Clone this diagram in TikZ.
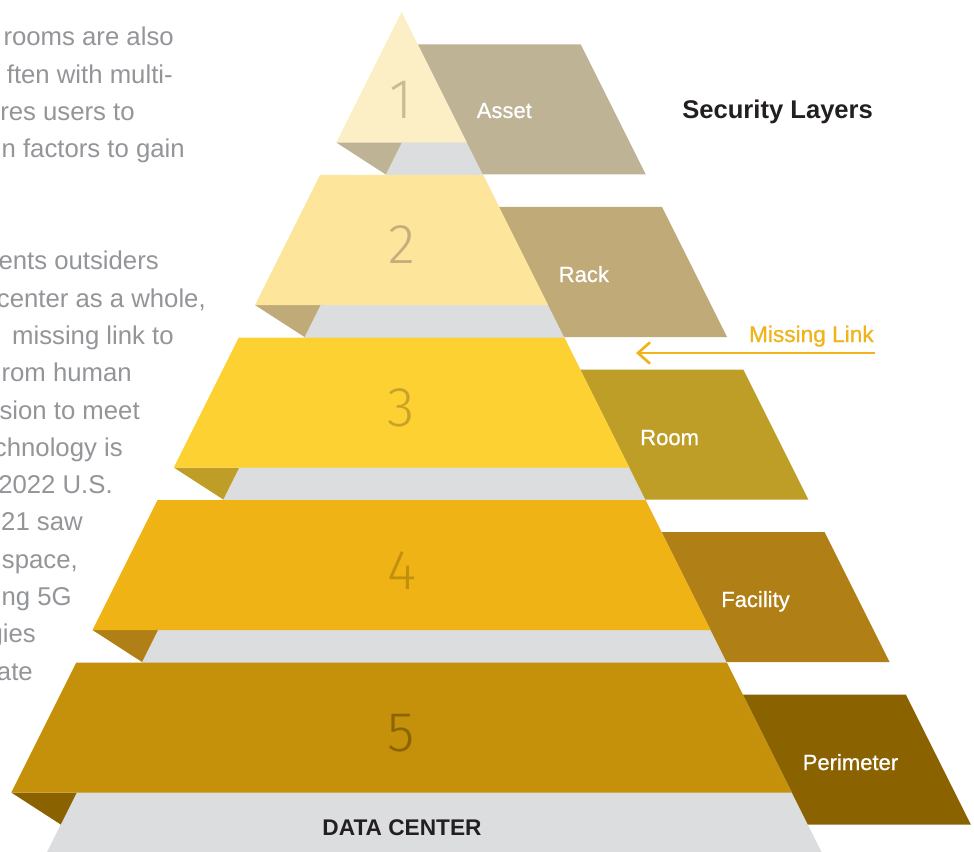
\documentclass[tikz,border=0pt]{standalone}
\usepackage{fontspec}
\setmainfont{Liberation Sans}
\newfontfamily\medfont{Liberation Sans}[FakeBold=0.8]
\IfFontExistsTF{Fira Sans Light}
  {\newfontfamily\digitfont{Fira Sans Light}}
  {\newfontfamily\digitfont{Liberation Sans}}
\usetikzlibrary{arrows.meta}

\definecolor{bandgray}{HTML}{DCDDDF}
\definecolor{bodytext}{HTML}{939598}
\definecolor{headtext}{HTML}{231F20}
\definecolor{linkcol}{HTML}{F0B31A}
% front / back colours of the five layers
\definecolor{fA}{HTML}{FDEFC5}\definecolor{bA}{HTML}{BFB396}\definecolor{dA}{HTML}{C9BB92}
\definecolor{fB}{HTML}{FEE59C}\definecolor{bB}{HTML}{BFAA78}\definecolor{dB}{HTML}{C4AE7C}
\definecolor{fC}{HTML}{FED133}\definecolor{bC}{HTML}{BF9E27}\definecolor{dC}{HTML}{C9A22A}
\definecolor{fD}{HTML}{EFB315}\definecolor{bD}{HTML}{B08016}\definecolor{dD}{HTML}{C2900F}
\definecolor{fE}{HTML}{C5900A}\definecolor{bE}{HTML}{8A6300}\definecolor{dE}{HTML}{8C6503}

\tikzset{
  face/.style={fill=#1, draw=none},
  layernum/.style={text=#1, font=\digitfont\fontsize{42}{42}\selectfont, inner sep=0pt, anchor=center},
  layerlabel/.style={text=white, font=\medfont\fontsize{16.5}{16.5}\selectfont, inner sep=0pt, anchor=base west},
  para/.style={text=bodytext, font=\fontsize{19.3}{19.3}\selectfont, inner sep=0pt, anchor=base east},
}

\begin{document}
\begin{tikzpicture}[x=0.75pt, y=-0.75pt]
\useasboundingbox (0,0) rectangle (974,852);
\fill[white] (0,0) rectangle (974,852);

% paragraph running off the left edge
\node[para] (p1)  at (174,46)    {rooms are also};
\node[para] (p2)  at (173,83.3)  {ften with multi-};
\node[para] (p3)  at (135,120.6) {res users to};
\node[para] (p4)  at (185,157.9) {n factors to gain};
\node[para] (p5)  at (159,269.8) {ents outsiders};
\node[para] (p6)  at (206,307.1) {center as a whole,};
\node[para] (p7)  at (174,344.4) {missing link to};
\node[para] (p8)  at (132,381.7) {rom human};
\node[para] (p9)  at (140,419)   {sion to meet};
\node[para] (p10) at (123,456.3) {chnology is};
\node[para] (p11) at (113,493.6) {2022 U.S.};
\node[para] (p12) at (83,530.9)  {21 saw};
\node[para] (p13) at (78,568.2)  {space,};
\node[para] (p14) at (72,605.5)  {ng 5G};
\node[para] (p15) at (36,642.8)  {gies};
\node[para] (p16) at (33,680.1)  {ate};

% grey body of the pyramid
\fill[bandgray] (434.25,77.5) -- (821.5,852) -- (47,852) -- cycle;

% back panels (right side)
\fill[face=bA] (417.75,44.5) -- (580.75,44.5) -- (645.75,174.5) -- (482.75,174.5) -- cycle;
\fill[face=bB] (499,207) -- (662,207) -- (727,337) -- (564,337) -- cycle;
\fill[face=bC] (580.25,369.5) -- (743.25,369.5) -- (808.25,499.5) -- (645.25,499.5) -- cycle;
\fill[face=bD] (661.5,532) -- (824.5,532) -- (889.5,662) -- (726.5,662) -- cycle;
\fill[face=bE] (742.75,694.5) -- (905.75,694.5) -- (970.75,824.5) -- (807.75,824.5) -- cycle;

% folded corners (left side)
\fill[face=bA] (336.25,142.5) -- (401.75,142.5) -- (385.75,174.5) -- cycle;
\fill[face=bB] (255,305) -- (320.5,305) -- (304.5,337) -- cycle;
\fill[face=bC] (173.75,467.5) -- (239.25,467.5) -- (223.25,499.5) -- cycle;
\fill[face=bD] (92.5,630) -- (158,630) -- (142,662) -- cycle;
\fill[face=bE] (11.25,792.5) -- (76.75,792.5) -- (60.75,824.5) -- cycle;

% front faces
\fill[face=fA] (401.5,12) -- (466.75,142.5) -- (336.25,142.5) -- cycle;
\fill[face=fB] (320,175) -- (483,175) -- (548,305) -- (255,305) -- cycle;
\fill[face=fC] (238.75,337.5) -- (564.25,337.5) -- (629.25,467.5) -- (173.75,467.5) -- cycle;
\fill[face=fD] (157.5,500) -- (645.5,500) -- (710.5,630) -- (92.5,630) -- cycle;
\fill[face=fE] (76.25,662.5) -- (726.75,662.5) -- (791.75,792.5) -- (11.25,792.5) -- cycle;

% layer numbers
\node[layernum=dA] (n1) at (401.5,100) {1};
\node[layernum=dB] (n2) at (401.5,245) {2};
\node[layernum=dC] (n3) at (401.5,408) {3};
\node[layernum=dD] (n4) at (401.5,571) {4};
\node[layernum=dE] (n5) at (401.5,733) {5};

% layer names
\node[layerlabel] (l1) at (476.5,118) {Asset};
\node[layerlabel] (l2) at (558.5,282) {Rack};
\node[layerlabel] (l3) at (640,445)   {Room};
\node[layerlabel] (l4) at (721,607)   {Facility};
\node[layerlabel] (l5) at (802.5,770) {Perimeter};

% base caption
\node[text=headtext, font=\bfseries\fontsize{17}{17}\selectfont, inner sep=0pt, anchor=base]
  (dc) at (402,835) {DATA CENTER};

% heading
\node[text=headtext, font=\bfseries\fontsize{19.2}{19.2}\selectfont, inner sep=0pt, anchor=base west]
  (title) at (682,119) {Security Layers};

% missing link pointer
\node[text=linkcol, font=\medfont\fontsize{17}{17}\selectfont, inner sep=0pt, anchor=base east]
  (ml) at (874,342) {Missing Link};
\coordinate (mlstart) at (875,353);
\coordinate (mlend) at (636,353);
\draw[linkcol, line width=2pt, -{Straight Barb[length=9pt, width=16pt, line width=2pt]}]
  (mlstart) -- (mlend);
\end{tikzpicture}
\end{document}
